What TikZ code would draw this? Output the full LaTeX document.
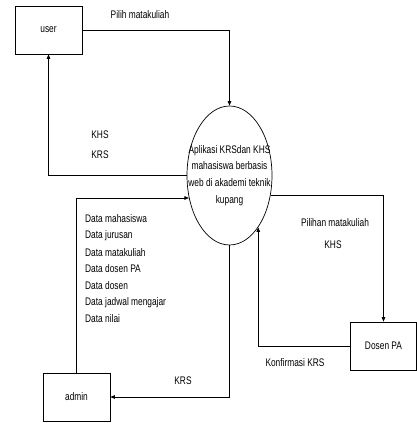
\documentclass[tikz,border=0pt]{standalone}
\usepackage{fontspec}
\setmainfont[FakeStretch=0.76]{Liberation Sans}
\usetikzlibrary{shapes.geometric,arrows.meta}

\begin{document}
\begin{tikzpicture}[x=1pt,y=-1pt,
  font=\fontsize{11}{16.7}\selectfont,
  entitas/.style={draw,line width=0.7pt,minimum width=67pt,minimum height=48pt,inner sep=0pt},
  alur/.style={line width=0.7pt,-{Triangle[length=4.5pt,width=3.5pt]}}]

\useasboundingbox (0,0) rectangle (417,423);

% entitas luar

\node[entitas] (user) at (48.5,30) {user};
\node[entitas] (admin) at (76.5,397) {admin};
\node[entitas,minimum width=66pt] (dosen) at (383.5,346) {Dosen PA};

% proses

\node[draw,ellipse,line width=0.7pt,minimum width=85pt,minimum height=139pt,inner sep=0pt] (proses) at (229.5,175.5) {};
\node[align=center,inner sep=0pt] (judul) at (proses.center) {Aplikasi KRSdan KHS\\mahasiswa berbasis\\web di akademi teknik\\kupang};

% aliran data

\draw[alur] (user.east) -| (proses.north);
\draw[alur] (proses.west) -| (user.south);
\draw[alur] (admin.north) |- (proses.209);
\draw[alur] (proses.334) -| (dosen.north);
\draw[alur] (dosen.west) -| (proses.299);
\draw[alur] (proses.south) |- (admin.east);

% label

\node (l_pilih) at (140,15) {Pilih matakuliah};
\node (l_khs) at (100,135) {KHS};
\node (l_krs) at (100,155) {KRS};
\foreach \teks [count=\i] in {Data mahasiswa,Data jurusan,Data matakuliah,Data dosen PA,Data dosen,Data jadwal mengajar,Data nilai}
  \node[anchor=west,inner sep=0pt] (l_data\i) at (85,202+16.7*\i) {\teks};
\node (l_pilihan) at (335,223) {Pilihan matakuliah};
\node (l_khs2) at (333,245) {KHS};
\node (l_konf) at (295,363) {Konfirmasi KRS};
\node (l_krs2) at (183,381) {KRS};

\end{tikzpicture}
\end{document}
